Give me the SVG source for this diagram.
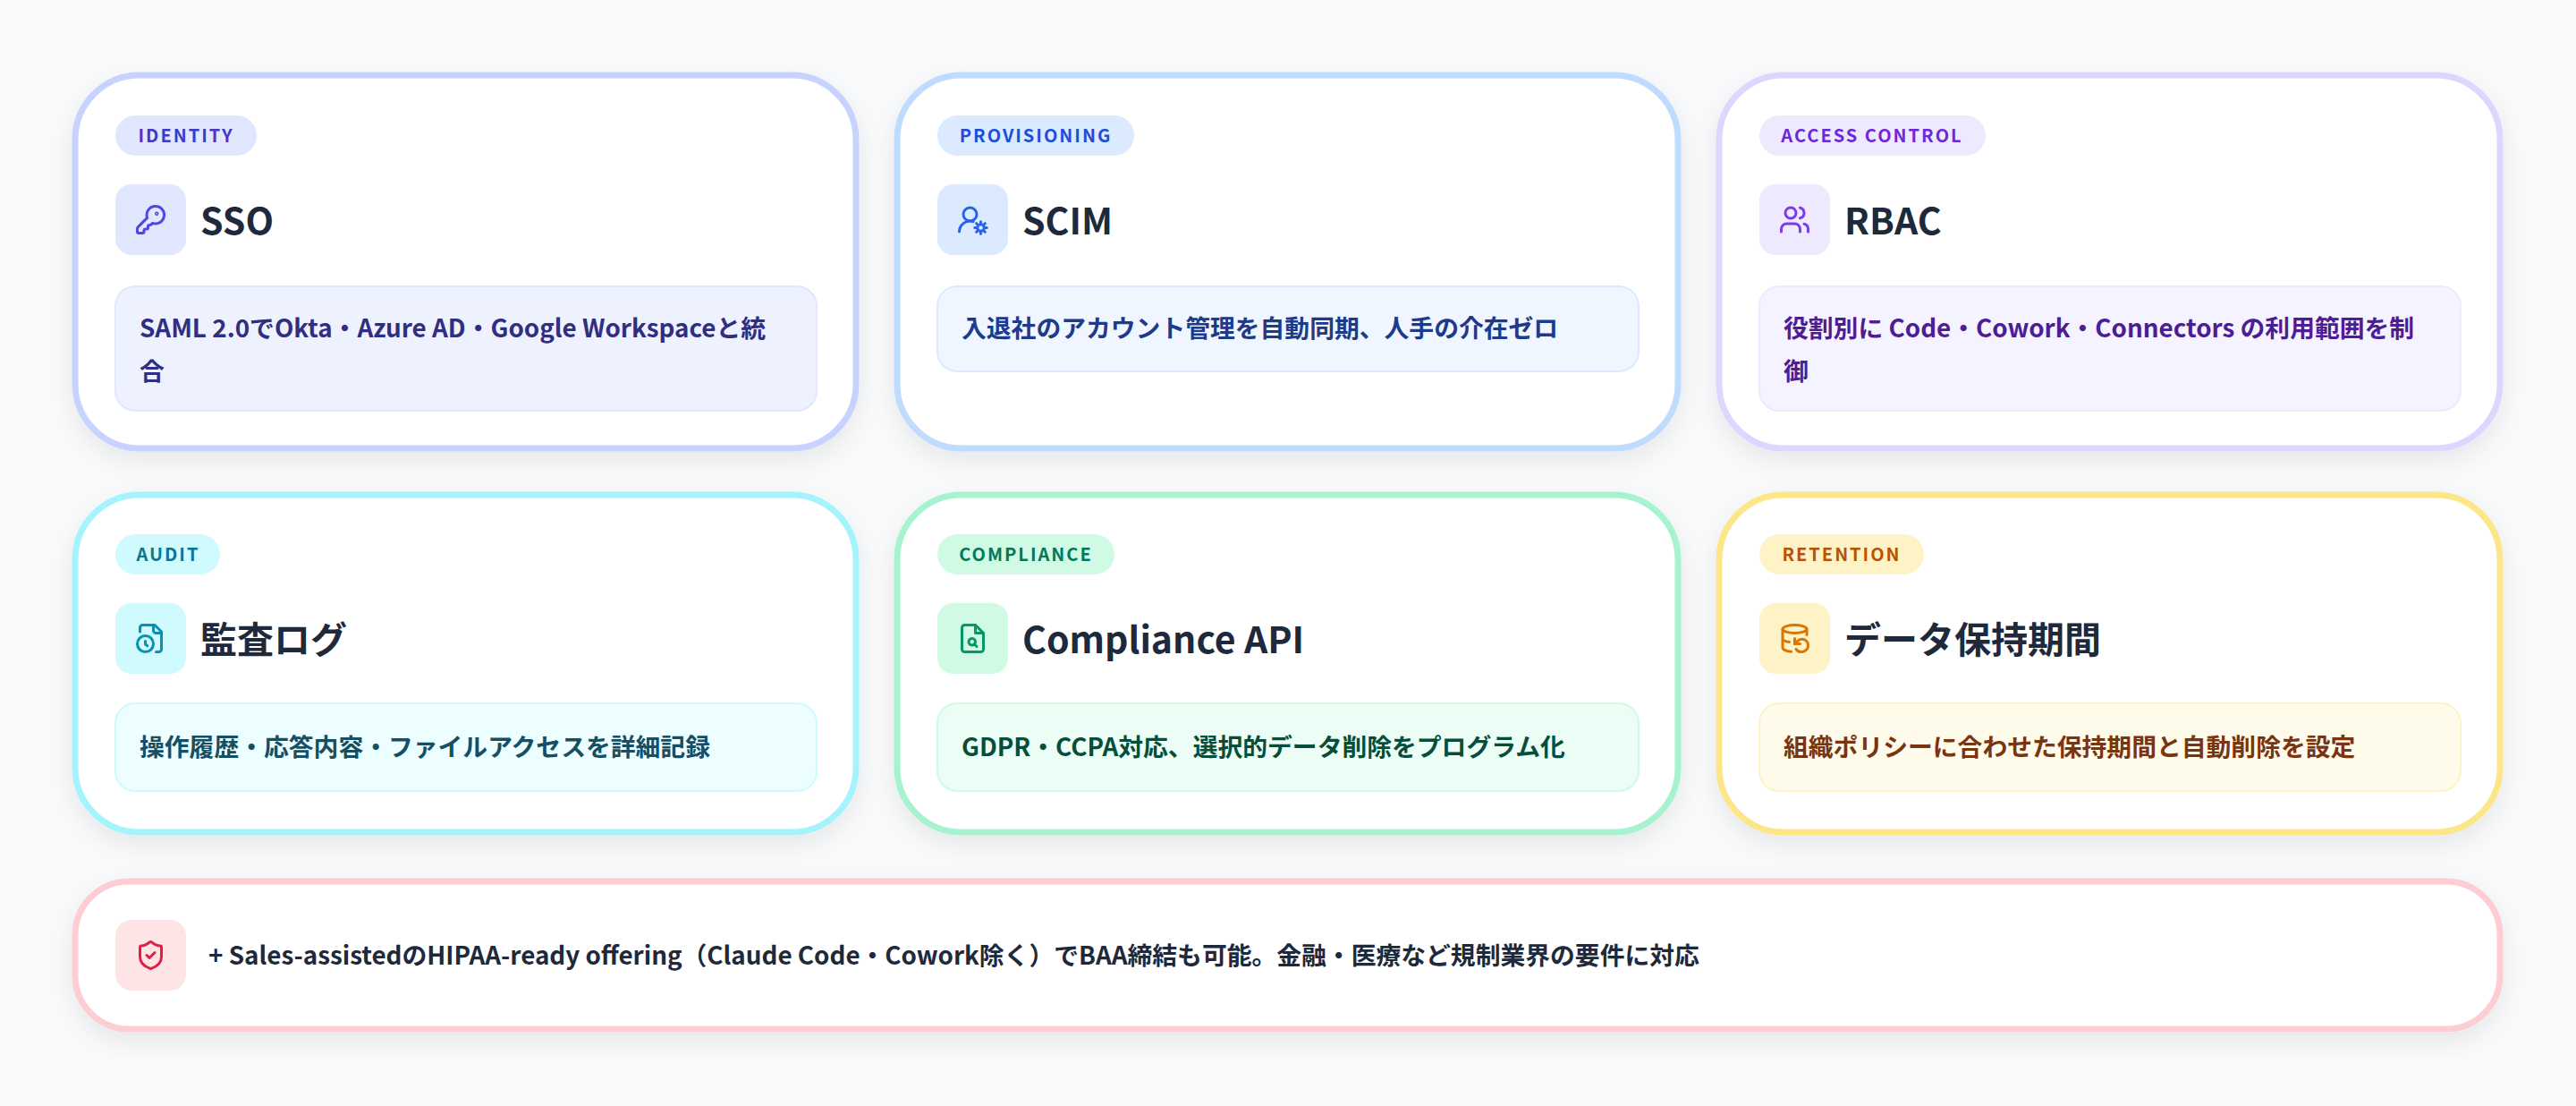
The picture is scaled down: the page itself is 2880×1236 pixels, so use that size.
<svg xmlns="http://www.w3.org/2000/svg" width="2880" height="1236" viewBox="0 0 2880 1236">
<defs>
<filter id="sh" x="-10%" y="-10%" width="120%" height="130%"><feDropShadow dx="0" dy="10" stdDeviation="14" flood-color="#0f172a" flood-opacity="0.08"/></filter>
<style>
text{font-family:"Noto Sans CJK JP","Noto Sans",sans-serif;font-weight:700}
.card{fill:#fff;stroke-width:7;filter:url(#sh)}
.tag{font-size:20px;letter-spacing:2px;text-anchor:middle}
.title{font-size:41px;fill:#1e293b}
.desc{font-size:27.8px}
.ic{fill:none;stroke-width:2;stroke-linecap:round;stroke-linejoin:round}
</style>
</defs>
<rect width="2880" height="1236" fill="#f8fafc"/>
<g id="sso">
<rect class="card" x="84" y="84" width="873" height="417" rx="72" stroke="#c7d2fe"/>
<rect x="129" y="129" width="158" height="45" rx="22.5" fill="#e0e7ff"/>
<text class="tag" x="208" y="159" fill="#4338ca">IDENTITY</text>
<rect x="129" y="206" width="79" height="79" rx="18" fill="#e0e7ff"/>
<g class="ic" stroke="#4f46e5" transform="translate(150.5,227.5) scale(1.5)"><path d="M2.586 17.414A2 2 0 0 0 2 18.828V21a1 1 0 0 0 1 1h3a1 1 0 0 0 1-1v-1a1 1 0 0 1 1-1h1a1 1 0 0 0 1-1v-1a1 1 0 0 1 1-1h.172a2 2 0 0 0 1.414-.586l.814-.814a6.5 6.5 0 1 0-4-4z"/><circle cx="16.5" cy="7.5" r=".5"/></g>
<text class="title" x="224" y="262">SSO</text>
<rect x="129" y="320" width="784" height="139" rx="22" fill="#eef2ff" stroke="#e0e7ff" stroke-width="2"/>
<text class="desc" fill="#312e81" x="156" y="377">SAML 2.0でOkta・Azure AD・Google Workspaceと統</text>
<text class="desc" fill="#312e81" x="156" y="425">合</text>
</g>
<g id="scim">
<rect class="card" x="1003" y="84" width="873" height="417" rx="72" stroke="#bfdbfe"/>
<rect x="1048" y="129" width="220" height="45" rx="22.5" fill="#dbeafe"/>
<text class="tag" x="1158" y="159" fill="#1d4ed8">PROVISIONING</text>
<rect x="1048" y="206" width="79" height="79" rx="18" fill="#dbeafe"/>
<g class="ic" stroke="#2563eb" transform="translate(1069.5,227.5) scale(1.5)"><path d="M2 21a8 8 0 0 1 10.4-7.6"/><circle cx="10" cy="8" r="5"/><circle cx="18" cy="18" r="2.5"/><path d="M18 13.5v1M18 21.5v1M13.5 18h1M21.5 18h1M14.8 14.8l.7.7M20.5 20.5l.7.7M14.8 21.2l.7-.7M20.5 15.5l.7-.7"/></g>
<text class="title" x="1143" y="262">SCIM</text>
<rect x="1048" y="320" width="784" height="95" rx="22" fill="#eff6ff" stroke="#dbeafe" stroke-width="2"/>
<text class="desc" fill="#1e3a8a" x="1075" y="377">入退社のアカウント管理を自動同期、人手の介在ゼロ</text>
</g>
<g id="rbac">
<rect class="card" x="1922" y="84" width="873" height="417" rx="72" stroke="#ddd6fe"/>
<rect x="1967" y="129" width="253" height="45" rx="22.5" fill="#ede9fe"/>
<text class="tag" x="2093" y="159" fill="#6d28d9">ACCESS CONTROL</text>
<rect x="1967" y="206" width="79" height="79" rx="18" fill="#ede9fe"/>
<g class="ic" stroke="#7c3aed" transform="translate(1988.5,227.5) scale(1.5)"><path d="M16 21v-2a4 4 0 0 0-4-4H6a4 4 0 0 0-4 4v2"/><circle cx="9" cy="7" r="4"/><path d="M22 21v-2a4 4 0 0 0-3-3.870M16 3.13a4 4 0 0 1 0 7.75"/></g>
<text class="title" x="2062" y="262">RBAC</text>
<rect x="1967" y="320" width="784" height="139" rx="22" fill="#f5f3ff" stroke="#ede9fe" stroke-width="2"/>
<text class="desc" fill="#4c1d95" x="1994" y="377">役割別に Code・Cowork・Connectors の利用範囲を制</text>
<text class="desc" fill="#4c1d95" x="1994" y="425">御</text>
</g>
<g id="audit">
<rect class="card" x="84" y="553" width="873" height="377" rx="72" stroke="#a5f3fc"/>
<rect x="129" y="597" width="117" height="45" rx="22.5" fill="#cffafe"/>
<text class="tag" x="188" y="627" fill="#0e7490">AUDIT</text>
<rect x="129" y="674" width="79" height="79" rx="18" fill="#cffafe"/>
<g class="ic" stroke="#0891b2" transform="translate(150.5,695.5) scale(1.5)"><path d="M16 22h2a2 2 0 0 0 2-2V7l-5-5H6a2 2 0 0 0-2 2v3"/><path d="M14 2v4a2 2 0 0 0 2 2h4"/><circle cx="8" cy="16" r="6"/><path d="M9.5 17.5 8 16.25V14"/></g>
<text class="title" x="224" y="730">監査ログ</text>
<rect x="129" y="786" width="784" height="98" rx="22" fill="#ecfeff" stroke="#cffafe" stroke-width="2"/>
<text class="desc" fill="#164e63" x="156" y="845">操作履歴・応答内容・ファイルアクセスを詳細記録</text>
</g>
<g id="compliance">
<rect class="card" x="1003" y="553" width="873" height="377" rx="72" stroke="#a7f3d0"/>
<rect x="1048" y="597" width="198" height="45" rx="22.5" fill="#d1fae5"/>
<text class="tag" x="1147" y="627" fill="#047857">COMPLIANCE</text>
<rect x="1048" y="674" width="79" height="79" rx="18" fill="#d1fae5"/>
<g class="ic" stroke="#059669" transform="translate(1069.5,695.5) scale(1.5)"><path d="M14 2H6a2 2 0 0 0-2 2v16a2 2 0 0 0 2 2h12a2 2 0 0 0 2-2V8z"/><path d="M14 2v6h6"/><circle cx="11.5" cy="14.5" r="2.5"/><path d="M13.3 16.3 15 18"/></g>
<text class="title" x="1143" y="730">Compliance API</text>
<rect x="1048" y="786" width="784" height="98" rx="22" fill="#ecfdf5" stroke="#d1fae5" stroke-width="2"/>
<text class="desc" fill="#064e3b" x="1075" y="845">GDPR・CCPA対応、選択的データ削除をプログラム化</text>
</g>
<g id="retention">
<rect class="card" x="1922" y="553" width="873" height="377" rx="72" stroke="#fde68a"/>
<rect x="1967" y="597" width="184" height="45" rx="22.5" fill="#fef3c7"/>
<text class="tag" x="2059" y="627" fill="#b45309">RETENTION</text>
<rect x="1967" y="674" width="79" height="79" rx="18" fill="#fef3c7"/>
<g class="ic" stroke="#d97706" transform="translate(1988.5,695.5) scale(1.5)"><ellipse cx="12" cy="5" rx="9" ry="3"/><path d="M3 12a9 3 0 0 0 5 2.69M21 9.3V5M3 5v14a9 3 0 0 0 6.47 2.88M12 12v4h4"/><path d="M13 20a5 5 0 0 0 9-3 4.5 4.5 0 0 0-4.5-4.5c-1.33 0-2.540.54-3.41 1.41L12 16"/></g>
<text class="title" x="2062" y="730">データ保持期間</text>
<rect x="1967" y="786" width="784" height="98" rx="22" fill="#fffbeb" stroke="#fef3c7" stroke-width="2"/>
<text class="desc" fill="#78350f" x="1994" y="845">組織ポリシーに合わせた保持期間と自動削除を設定</text>
</g>
<g id="hipaa">
<rect class="card" x="84" y="985" width="2711" height="165" rx="60" stroke="#fecdd3"/>
<rect x="129" y="1028" width="79" height="79" rx="18" fill="#ffe4e6"/>
<g class="ic" stroke="#e11d48" transform="translate(150.5,1049.5) scale(1.5)"><path d="M20 13c0 5-3.5 7.5-7.66 8.95a1 1 0 0 1-.67-.01C7.5 20.5 4 18 4 13V6a1 1 0 0 1 1-1c2 0 4.5-1.2 6.24-2.72a1.17 1.17 0 0 1 1.52 0C14.51 3.81 17 5 19 5a1 1 0 0 1 1 1z"/><path d="m9 12 2 2 4-4"/></g>
<text class="desc" fill="#1e293b" x="233" y="1078">+ Sales-assistedのHIPAA-ready offering（Claude Code・Cowork除く）でBAA締結も可能。金融・医療など規制業界の要件に対応</text>
</g>
<g id="connectors"/>
</svg>
